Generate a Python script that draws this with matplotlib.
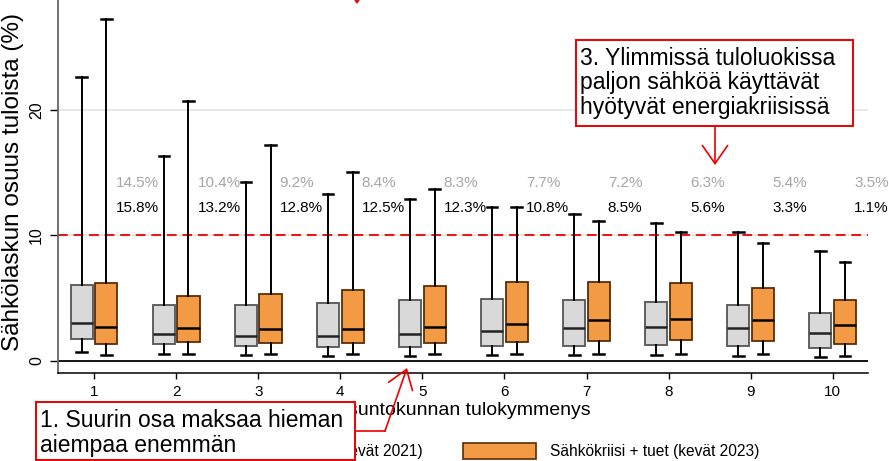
import numpy as np
import matplotlib
matplotlib.use("Agg")
import matplotlib.pyplot as plt
from matplotlib.patches import Patch, Rectangle, FancyArrowPatch
from matplotlib.lines import Line2D

plt.rcParams['font.family'] = ['Liberation Sans', 'DejaVu Sans']

W, H = 889, 461

deciles = [1, 2, 3, 4, 5, 6, 7, 8, 9, 10]

# kevät 2021
lo_2021 = [0.72, 0.58, 0.48, 0.42, 0.42, 0.45, 0.48, 0.48, 0.42, 0.34]
q1_2021 = [1.75, 1.33, 1.17, 1.12, 1.12, 1.17, 1.22, 1.25, 1.22, 1.06]
med_2021 = [3.0, 2.18, 1.99, 1.99, 2.18, 2.41, 2.63, 2.68, 2.63, 2.26]
q3_2021 = [6.06, 4.46, 4.44, 4.65, 4.86, 4.94, 4.89, 4.73, 4.49, 3.85]
hi_2021 = [22.6, 16.3, 14.26, 13.3, 12.9, 12.3, 11.74, 11.02, 10.3, 8.79]

# kevät 2023
lo_2023 = [0.5, 0.53, 0.53, 0.53, 0.53, 0.53, 0.56, 0.56, 0.53, 0.42]
q1_2023 = [1.35, 1.49, 1.41, 1.41, 1.43, 1.49, 1.57, 1.65, 1.59, 1.35]
med_2023 = [2.71, 2.66, 2.52, 2.58, 2.71, 2.97, 3.24, 3.35, 3.29, 2.87]
q3_2023 = [6.24, 5.2, 5.31, 5.66, 5.95, 6.27, 6.32, 6.19, 5.84, 4.89]
hi_2023 = [27.25, 20.7, 17.2, 15.06, 13.68, 12.3, 11.18, 10.25, 9.38, 7.89]

# share above 10 %
share_2021 = ["14.5%", "10.4%", "9.2%", "8.4%", "8.3%", "7.7%", "7.2%", "6.3%", "5.4%", "3.5%"]
share_2023 = ["15.8%", "13.2%", "12.8%", "12.5%", "12.3%", "10.8%", "8.5%", "5.6%", "3.3%", "1.1%"]

labels = ["Ennen kriisiä (kevät 2021)", "Sähkökriisi + tuet (kevät 2023)"]

gray = "#d9d9d9"
orange = "#f39a45"


def px(x, y):
    # pixel (from top left) -> figure fraction
    return x / W, 1 - y / H


def make_stats(lo, q1, med, q3, hi):
    return [dict(whislo=a, q1=b, med=c, q3=d, whishi=e, fliers=[])
            for a, b, c, d, e in zip(lo, q1, med, q3, hi)]


fig = plt.figure(figsize=(W / 100, H / 100), dpi=100)
ax = fig.add_axes([58 / W, 1 - 373 / H, 810 / W, 373 / H])

ax.axhline(20, color="#e4e4e4", lw=1.2, zorder=0)
ax.axhline(10, color="#e4e4e4", lw=1.2, zorder=0)
ax.axhline(10, color="#ee1111", lw=1.4, ls=(0, (5, 3)), zorder=1)
ax.axhline(0, color="black", lw=1.3, zorder=1)

pos = np.array(deciles, dtype=float)
common = dict(widths=0.27, patch_artist=True, showfliers=False, capwidths=0.13,
              whiskerprops=dict(color="black", lw=1.4),
              capprops=dict(color="black", lw=1.8))
ax.bxp(make_stats(lo_2021, q1_2021, med_2021, q3_2021, hi_2021), positions=pos - 0.15,
       boxprops=dict(facecolor=gray, edgecolor="#555555", lw=1.3),
       medianprops=dict(color="#222222", lw=1.8), **common)
ax.bxp(make_stats(lo_2023, q1_2023, med_2023, q3_2023, hi_2023), positions=pos + 0.15,
       boxprops=dict(facecolor=orange, edgecolor="#5a2e05", lw=1.3),
       medianprops=dict(color="black", lw=1.8), **common)

for d, s1, s2 in zip(deciles, share_2021, share_2023):
    ax.text(d + 0.26, 14.2, s1, color="#a6a6a6", fontsize=11, va="center", ha="left")
    ax.text(d + 0.26, 12.2, s2, color="black", fontsize=11, va="center", ha="left")

ax.set_xlim(0.56, 10.43)
ax.set_ylim(-0.96, 28.76)
ax.set_xticks(deciles)
ax.set_xticklabels([str(d) for d in deciles])
ax.set_yticks([0, 10, 20])
ax.tick_params(axis="x", length=4, width=1, pad=5, labelsize=11)
ax.tick_params(axis="y", length=6, width=1, pad=4, labelsize=11.5)
plt.setp(ax.get_yticklabels(), rotation=90, va="center")

for side in ["top", "right"]:
    ax.spines[side].set_visible(False)
ax.spines["left"].set_color("#666666")
ax.spines["left"].set_linewidth(1.3)
ax.spines["bottom"].set_linewidth(1.1)

ax.set_ylabel("Sähkölaskun osuus tuloista (%)", fontsize=17.5)
ax.yaxis.set_label_coords(-0.042, 0.512)
ax.set_xlabel("Asuntokunnan tulokymmenys", fontsize=14)
ax.xaxis.set_label_coords(0.5, -0.078)

fig.legend(handles=[Patch(facecolor=gray, edgecolor="#555555", lw=1.2),
                    Patch(facecolor=orange, edgecolor="#5a2e05", lw=1.2)],
           labels=labels, ncol=2, loc="center", bbox_to_anchor=px(458, 451),
           frameon=False, fontsize=11.2, handlelength=4.7, handleheight=1.3,
           columnspacing=2.6, handletextpad=0.85)

# annotation boxes
red = "#ee0000"
x0, y0 = px(36, 460)
x1, y1 = px(355, 402)
fig.add_artist(Rectangle((x0, y0), x1 - x0, y1 - y0, transform=fig.transFigure,
                         facecolor="white", edgecolor=red, lw=1.4, zorder=10))
fig.text(*px(40, 433), "1. Suurin osa maksaa hieman\naiempaa enemmän", fontsize=16.5,
         va="center", ha="left", linespacing=1.1, zorder=11)

x0, y0 = px(576, 126)
x1, y1 = px(853, 40)
fig.add_artist(Rectangle((x0, y0), x1 - x0, y1 - y0, transform=fig.transFigure,
                         facecolor="white", edgecolor=red, lw=1.4, zorder=10))
fig.text(*px(580, 83), "3. Ylimmissä tuloluokissa\npaljon sähköä käyttävät\nhyötyvät energiakriisissä",
         fontsize=16.5, va="center", ha="left", linespacing=1.08, zorder=11)

# arrows
head = "->,head_length=1.0,head_width=0.7"
fig.add_artist(Line2D(*zip(px(355, 431), px(385, 431)), transform=fig.transFigure,
                      color=red, lw=1.2, zorder=10))
fig.add_artist(FancyArrowPatch(px(385, 431), px(407, 368), transform=fig.transFigure,
                               arrowstyle=head, mutation_scale=13, color=red, lw=1.2,
                               shrinkA=0, shrinkB=0, zorder=10))
fig.add_artist(FancyArrowPatch(px(715, 126), px(715, 165), transform=fig.transFigure,
                               arrowstyle=head, mutation_scale=13, color=red, lw=1.2,
                               shrinkA=0, shrinkB=0, zorder=10))
fig.add_artist(FancyArrowPatch(px(357, -40), px(357, 4), transform=fig.transFigure,
                               arrowstyle=head, mutation_scale=13, color=red, lw=1.2,
                               shrinkA=0, shrinkB=0, zorder=10))

fig.savefig("out.png", dpi=100)
